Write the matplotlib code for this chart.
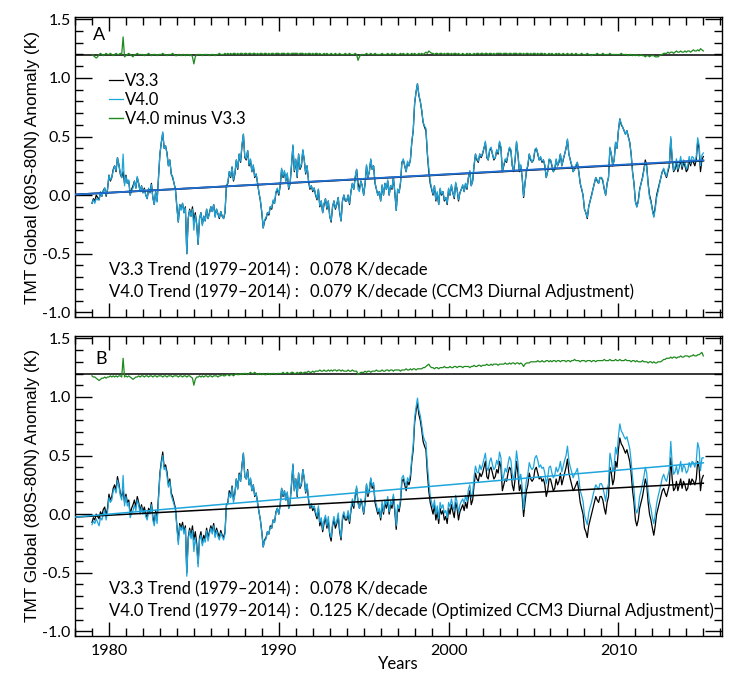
import numpy as np
import matplotlib
matplotlib.use("Agg")
import matplotlib.pyplot as plt
from matplotlib.ticker import MultipleLocator

# ---------------- data (monthly, Jan 1979 .. Jan 2015) ----------------
start_year = 1979
v33 = [
    -0.07, -0.03, -0.05, 0.00, -0.02, -0.04, 0.02, -0.01, 0.04, 0.06, -0.01, 0.05,   # 1979
    0.17, 0.12, 0.15, 0.22, 0.25, 0.20, 0.32, 0.26, 0.18, 0.15, 0.20, 0.10,          # 1980
    0.17, 0.10, 0.12, 0.00, 0.05, 0.08, 0.12, 0.06, 0.15, 0.10, 0.03, 0.08,          # 1981
    0.02, 0.06, 0.00, -0.03, 0.05, 0.02, 0.10, -0.02, -0.08, 0.03, -0.05, 0.15,      # 1982
    0.35, 0.45, 0.53, 0.40, 0.42, 0.36, 0.25, 0.30, 0.18, 0.15, 0.10, 0.05,          # 1983
    -0.10, -0.23, -0.08, -0.12, -0.07, -0.15, -0.10, -0.50, -0.20, -0.12, -0.18, -0.10,  # 1984
    -0.22, -0.15, -0.25, -0.42, -0.20, -0.15, -0.25, -0.18, -0.22, -0.12, -0.20, -0.15,  # 1985
    -0.10, -0.14, -0.08, -0.18, -0.12, -0.16, -0.20, -0.14, -0.18, -0.20, -0.15, 0.08,   # 1986
    0.10, 0.20, 0.15, 0.24, 0.12, 0.18, 0.30, 0.22, 0.35, 0.28, 0.42, 0.52,          # 1987
    0.32, 0.30, 0.38, 0.25, 0.30, 0.20, 0.25, 0.15, 0.18, 0.10, 0.02, -0.05,         # 1988
    -0.15, -0.28, -0.22, -0.20, -0.15, -0.17, -0.10, -0.12, -0.05, -0.07, 0.02, 0.05,    # 1989
    0.00, 0.08, 0.22, 0.15, 0.20, 0.12, 0.18, 0.05, 0.10, 0.25, 0.42, 0.20,          # 1990
    0.30, 0.15, 0.35, 0.22, 0.25, 0.38, 0.30, 0.18, 0.25, 0.12, 0.05, 0.08,          # 1991
    0.03, 0.06, 0.00, -0.04, 0.05, -0.10, -0.05, -0.15, -0.08, -0.03, -0.12, -0.05,  # 1992
    -0.18, -0.23, -0.10, -0.05, -0.12, -0.08, -0.02, -0.15, -0.22, -0.05, 0.00, -0.05,   # 1993
    -0.05, 0.00, -0.08, 0.03, 0.10, 0.05, 0.15, 0.22, 0.10, 0.05, 0.12, 0.08,        # 1994
    0.00, 0.10, 0.25, 0.15, 0.20, 0.30, 0.22, 0.25, 0.10, 0.05, 0.00, 0.03,          # 1995
    -0.05, 0.08, 0.00, 0.10, 0.05, 0.12, 0.00, 0.08, 0.05, 0.15, 0.02, -0.13,        # 1996
    0.05, 0.02, 0.10, 0.28, 0.30, 0.25, 0.20, 0.28, 0.25, 0.30, 0.45, 0.55,          # 1997
    0.78, 0.88, 0.95, 0.85, 0.80, 0.72, 0.62, 0.58, 0.55, 0.35, 0.20, 0.10,          # 1998
    0.05, 0.00, 0.08, -0.05, 0.02, -0.08, 0.05, 0.00, 0.03, -0.05, -0.02, -0.08,     # 1999
    0.05, 0.00, 0.08, 0.02, -0.03, 0.10, 0.05, -0.05, 0.02, 0.05, 0.08, 0.03,        # 2000
    0.10, 0.05, 0.15, 0.20, 0.08, 0.12, 0.25, 0.35, 0.30, 0.28, 0.35, 0.32,          # 2001
    0.35, 0.40, 0.45, 0.32, 0.30, 0.38, 0.40, 0.35, 0.30, 0.32, 0.38, 0.35,          # 2002
    0.45, 0.40, 0.20, 0.25, 0.30, 0.28, 0.35, 0.40, 0.38, 0.25, 0.20, 0.30,          # 2003
    0.45, 0.35, 0.20, 0.25, 0.15, -0.02, 0.10, 0.20, 0.25, 0.35, 0.30, 0.28,         # 2004
    0.30, 0.38, 0.40, 0.35, 0.30, 0.32, 0.28, 0.30, 0.25, 0.15, 0.20, 0.30,          # 2005
    0.30, 0.25, 0.20, 0.22, 0.30, 0.25, 0.28, 0.35, 0.25, 0.30, 0.35, 0.40,          # 2006
    0.47, 0.35, 0.30, 0.25, 0.20, 0.22, 0.25, 0.28, 0.20, 0.10, 0.05, 0.00,          # 2007
    -0.12, -0.15, -0.20, -0.10, -0.05, 0.00, 0.05, 0.10, 0.15, 0.12, 0.10, 0.15,     # 2008
    0.15, 0.12, 0.05, 0.00, 0.10, 0.15, 0.40, 0.35, 0.25, 0.30, 0.45, 0.40,          # 2009
    0.55, 0.65, 0.60, 0.58, 0.55, 0.52, 0.55, 0.50, 0.45, 0.35, 0.20, 0.10,          # 2010
    -0.05, -0.10, -0.05, 0.05, 0.10, 0.15, 0.22, 0.30, 0.25, 0.10, 0.00, -0.05,      # 2011
    -0.12, -0.18, -0.10, 0.00, 0.05, 0.10, 0.15, 0.20, 0.22, 0.18, 0.15, 0.20,       # 2012
    0.25, 0.48, 0.30, 0.20, 0.22, 0.28, 0.20, 0.25, 0.30, 0.22, 0.28, 0.25,          # 2013
    0.20, 0.22, 0.30, 0.25, 0.30, 0.28, 0.25, 0.30, 0.45, 0.40, 0.20, 0.30,          # 2014
    0.33,                                                                            # 2015
]

# V4.0 (CCM3 diurnal adjustment) minus V3.3
diff_a = [
    0.00, -0.01, -0.02, -0.03, -0.02, 0.00, 0.01, 0.00, -0.01, 0.00, 0.01, 0.00,     # 1979
    0.00, 0.01, 0.00, -0.01, 0.00, 0.01, 0.00, 0.00, 0.01, 0.00, 0.15, -0.02,        # 1980
    -0.01, 0.00, 0.01, 0.00, -0.01, -0.02, 0.00, 0.00, 0.01, 0.00, 0.00, 0.00,       # 1981
    0.00, -0.01, 0.00, 0.00, 0.01, 0.00, -0.01, 0.00, 0.00, 0.00, -0.01, 0.00,       # 1982
    0.00, 0.00, 0.01, 0.00, 0.00, -0.01, 0.00, 0.00, 0.00, 0.01, 0.00, -0.01,        # 1983
    -0.01, 0.00, 0.00, -0.01, 0.00, 0.00, -0.01, 0.00, 0.00, -0.01, 0.00, -0.02,     # 1984
    -0.08, -0.02, 0.00, 0.00, 0.00, 0.00, -0.01, 0.00, 0.00, 0.00, 0.00, -0.01,      # 1985
    0.00, 0.00, 0.00, -0.01, 0.00, 0.00, 0.01, 0.00, 0.00, 0.00, 0.01, 0.00,         # 1986
    0.01, 0.00, 0.01, 0.00, 0.01, 0.01, 0.00, 0.01, 0.00, 0.01, 0.01, 0.00,          # 1987
    0.01, 0.01, 0.00, 0.01, 0.01, 0.00, 0.01, 0.01, 0.00, 0.01, 0.00, 0.01,          # 1988
    0.01, 0.00, 0.01, 0.01, 0.00, 0.01, 0.00, 0.01, 0.01, 0.00, 0.01, 0.01,          # 1989
    0.01, 0.00, 0.01, 0.01, 0.01, 0.00, 0.01, 0.01, 0.00, 0.01, 0.01, 0.01,          # 1990
    0.01, 0.01, 0.00, 0.01, 0.01, 0.01, 0.00, 0.01, 0.00, 0.01, 0.01, 0.00,          # 1991
    0.01, 0.00, 0.01, 0.01, 0.00, 0.01, 0.00, 0.00, 0.01, 0.00, 0.01, 0.00,          # 1992
    0.00, 0.01, 0.00, 0.00, 0.01, 0.00, 0.00, 0.01, 0.00, 0.00, 0.00, 0.01,          # 1993
    0.00, 0.00, 0.01, 0.00, 0.00, 0.00, 0.01, 0.00, -0.05, -0.02, 0.00, 0.00,        # 1994
    0.00, 0.00, 0.01, 0.00, 0.00, 0.01, 0.00, 0.00, 0.01, 0.00, 0.00, 0.00,          # 1995
    0.00, 0.01, 0.00, 0.00, 0.00, 0.01, 0.00, 0.00, 0.01, 0.00, 0.01, 0.00,          # 1996
    0.00, 0.00, 0.01, 0.00, 0.01, 0.00, 0.00, 0.01, 0.00, 0.00, 0.01, 0.00,          # 1997
    0.01, 0.00, 0.00, 0.01, 0.00, 0.01, 0.00, 0.01, 0.02, 0.01, 0.03, 0.02,          # 1998
    0.01, 0.01, 0.00, 0.01, 0.01, 0.00, 0.01, 0.01, 0.00, 0.01, 0.00, 0.01,          # 1999
    0.01, 0.00, 0.01, 0.00, 0.01, 0.01, 0.00, 0.01, 0.00, 0.00, 0.01, 0.00,          # 2000
    0.00, 0.01, 0.00, 0.01, 0.00, 0.00, 0.01, 0.00, 0.01, 0.01, 0.00, 0.01,          # 2001
    0.01, 0.00, 0.01, 0.01, 0.00, 0.01, 0.01, 0.00, 0.01, 0.00, 0.01, 0.01,          # 2002
    0.01, 0.01, 0.00, 0.01, 0.01, 0.01, 0.00, 0.01, 0.01, 0.00, 0.01, 0.01,          # 2003
    0.01, 0.00, 0.01, 0.01, 0.00, 0.01, 0.00, 0.01, 0.01, 0.00, 0.01, 0.00,          # 2004
    0.01, 0.01, 0.00, 0.01, 0.00, 0.01, 0.01, 0.00, 0.01, 0.00, 0.00, 0.01,          # 2005
    0.00, 0.01, 0.00, 0.00, 0.01, 0.00, 0.01, 0.00, 0.00, 0.01, 0.00, 0.00,          # 2006
    0.01, 0.00, 0.00, 0.01, 0.00, 0.00, 0.01, 0.00, 0.00, 0.00, 0.01, 0.00,          # 2007
    0.00, 0.00, 0.01, 0.00, 0.00, -0.01, 0.00, 0.00, 0.00, 0.01, 0.00, 0.00,         # 2008
    0.00, 0.01, 0.00, 0.00, 0.00, 0.00, 0.01, 0.00, 0.00, 0.00, 0.00, 0.00,          # 2009
    0.00, 0.00, 0.01, 0.00, 0.00, 0.00, 0.00, -0.01, 0.00, 0.00, -0.01, 0.00,        # 2010
    -0.01, 0.00, -0.01, -0.01, 0.00, -0.01, -0.01, -0.02, -0.01, -0.01, -0.02, -0.01,  # 2011
    -0.01, -0.01, -0.02, -0.02, -0.02, -0.01, 0.00, 0.00, 0.01, 0.01, 0.01, 0.02,    # 2012
    0.01, 0.02, 0.02, 0.01, 0.02, 0.03, 0.02, 0.02, 0.03, 0.02, 0.02, 0.03,          # 2013
    0.02, 0.03, 0.03, 0.02, 0.03, 0.04, 0.03, 0.03, 0.04, 0.03, 0.05, 0.04,          # 2014
    0.03,                                                                            # 2015
]

# V4.0 (optimized CCM3 diurnal adjustment) minus V3.3
diff_b = [
    -0.02, -0.03, -0.03, -0.04, -0.05, -0.06, -0.05, -0.04, -0.04, -0.03, -0.04, -0.03,  # 1979
    -0.03, -0.02, -0.03, -0.02, -0.03, -0.02, -0.03, -0.02, -0.02, -0.03, 0.13, -0.03,   # 1980
    -0.02, -0.03, -0.02, -0.03, -0.04, -0.05, -0.04, -0.03, -0.03, -0.02, -0.03, -0.02,  # 1981
    -0.02, -0.03, -0.02, -0.02, -0.03, -0.02, -0.02, -0.03, -0.02, -0.02, -0.03, -0.02,  # 1982
    -0.02, -0.02, -0.03, -0.02, -0.02, -0.03, -0.02, -0.02, -0.02, -0.03, -0.02, -0.02,  # 1983
    -0.02, -0.03, -0.02, -0.02, -0.03, -0.02, -0.02, -0.03, -0.02, -0.02, -0.03, -0.04,  # 1984
    -0.10, -0.05, -0.03, -0.03, -0.02, -0.03, -0.02, -0.03, -0.02, -0.02, -0.03, -0.02,  # 1985
    -0.02, -0.03, -0.02, -0.02, -0.02, -0.03, -0.02, -0.02, -0.01, -0.02, -0.02, -0.01,  # 1986
    -0.01, -0.02, -0.01, -0.01, -0.02, -0.01, 0.00, -0.01, -0.01, 0.00, -0.01, 0.00,     # 1987
    0.00, 0.00, -0.01, 0.00, 0.01, 0.00, 0.00, 0.01, 0.00, -0.01, 0.00, 0.00,            # 1988
    -0.01, 0.00, -0.01, -0.01, 0.00, 0.00, -0.01, 0.00, 0.00, 0.00, -0.01, 0.00,         # 1989
    0.00, 0.00, 0.00, 0.01, 0.00, 0.00, 0.01, 0.00, 0.00, 0.01, 0.01, 0.00,              # 1990
    0.00, 0.01, 0.00, 0.01, 0.01, 0.00, 0.01, 0.01, 0.01, 0.02, 0.01, 0.01,              # 1991
    0.02, 0.01, 0.02, 0.02, 0.02, 0.03, 0.02, 0.02, 0.03, 0.02, 0.02, 0.03,              # 1992
    0.02, 0.03, 0.02, 0.03, 0.03, 0.02, 0.03, 0.03, 0.02, 0.03, 0.02, 0.02,              # 1993
    0.02, 0.03, 0.02, 0.02, 0.03, 0.02, 0.02, 0.02, -0.01, 0.00, 0.01, 0.01,             # 1994
    0.01, 0.02, 0.01, 0.02, 0.02, 0.01, 0.02, 0.02, 0.02, 0.03, 0.02, 0.02,              # 1995
    0.02, 0.03, 0.02, 0.02, 0.03, 0.03, 0.02, 0.03, 0.03, 0.02, 0.03, 0.03,              # 1996
    0.03, 0.03, 0.02, 0.03, 0.03, 0.03, 0.04, 0.03, 0.03, 0.04, 0.03, 0.04,              # 1997
    0.04, 0.03, 0.04, 0.04, 0.04, 0.04, 0.05, 0.05, 0.06, 0.07, 0.08, 0.06,              # 1998
    0.05, 0.05, 0.04, 0.05, 0.05, 0.04, 0.05, 0.05, 0.05, 0.06, 0.05, 0.05,              # 1999
    0.05, 0.06, 0.05, 0.05, 0.06, 0.06, 0.05, 0.06, 0.06, 0.06, 0.05, 0.06,              # 2000
    0.06, 0.06, 0.06, 0.05, 0.06, 0.06, 0.07, 0.06, 0.06, 0.07, 0.07, 0.06,              # 2001
    0.07, 0.07, 0.07, 0.08, 0.07, 0.07, 0.08, 0.07, 0.08, 0.08, 0.08, 0.07,              # 2002
    0.08, 0.08, 0.08, 0.08, 0.09, 0.08, 0.08, 0.09, 0.08, 0.09, 0.09, 0.08,              # 2003
    0.09, 0.09, 0.08, 0.09, 0.08, 0.06, 0.08, 0.09, 0.09, 0.09, 0.10, 0.10,              # 2004
    0.10, 0.10, 0.10, 0.11, 0.10, 0.10, 0.11, 0.10, 0.10, 0.11, 0.11, 0.10,              # 2005
    0.11, 0.10, 0.11, 0.11, 0.10, 0.11, 0.11, 0.10, 0.11, 0.11, 0.11, 0.10,              # 2006
    0.11, 0.11, 0.10, 0.11, 0.11, 0.12, 0.11, 0.11, 0.11, 0.10, 0.11, 0.11,              # 2007
    0.11, 0.10, 0.11, 0.11, 0.11, 0.10, 0.11, 0.11, 0.10, 0.11, 0.11, 0.11,              # 2008
    0.11, 0.11, 0.12, 0.11, 0.11, 0.11, 0.12, 0.11, 0.11, 0.11, 0.12, 0.11,              # 2009
    0.11, 0.12, 0.11, 0.11, 0.11, 0.12, 0.11, 0.11, 0.11, 0.10, 0.11, 0.11,              # 2010
    0.10, 0.11, 0.10, 0.10, 0.10, 0.11, 0.10, 0.10, 0.10, 0.09, 0.10, 0.10,              # 2011
    0.09, 0.10, 0.09, 0.09, 0.10, 0.10, 0.10, 0.11, 0.12, 0.12, 0.13, 0.13,              # 2012
    0.13, 0.14, 0.13, 0.14, 0.14, 0.13, 0.14, 0.14, 0.15, 0.14, 0.14, 0.15,              # 2013
    0.15, 0.15, 0.14, 0.15, 0.15, 0.16, 0.15, 0.15, 0.16, 0.16, 0.17, 0.18,              # 2014
    0.15,                                                                                # 2015
]

diff_offset = 1.2               # difference curves are drawn around this baseline
trend_x = [1978.0, 2015.0]      # extent of trend lines
# trend lines: (value at 1978, slope K/decade)
trend_a_v33 = (0.005, 0.078)
trend_a_v40 = (0.005, 0.079)
trend_b_v33 = (-0.025, 0.078)
trend_b_v40 = (-0.025, 0.125)

xticks_major = [1980, 1990, 2000, 2010]
trend_text = {
    "A": ["0.078 K/decade", "0.079 K/decade (CCM3 Diurnal Adjustment)"],
    "B": ["0.078 K/decade", "0.125 K/decade (Optimized CCM3 Diurnal Adjustment)"],
}
trend_lab = ["V3.3 Trend (1979\u20132014) :", "V4.0 Trend (1979\u20132014) :"]

# ---------------- derived series ----------------
v33 = np.array(v33)
diff_a = np.array(diff_a)
diff_b = np.array(diff_b)
t = start_year + np.arange(len(v33)) / 12.0
v40_a = v33 + diff_a
v40_b = v33 + diff_b

BLACK = "#000000"
BLUE = "#1ea5dc"
BLUE_TREND_A = "#1f6fd4"
GREEN = "#1e8a1e"
TXT_FONT = ["Lato", "DejaVu Sans"]

plt.rcParams["font.family"] = TXT_FONT

fig = plt.figure(figsize=(7.34, 6.74), dpi=100)
W, H = 734, 674
def ax_rect(l, t_, r, b):
    return [l / W, 1 - b / H, (r - l) / W, (b - t_) / H]

axA = fig.add_axes(ax_rect(75, 17, 722, 317))
axB = fig.add_axes(ax_rect(75, 336, 722, 636))


def trend_y(p):
    b0, s = p
    return [b0 + s / 10.0 * (x - trend_x[0]) for x in trend_x]


def style(ax, show_xlabels):
    ax.set_xlim(1978.0, 2016.1)
    ax.set_ylim(-1.04, 1.52)
    ax.xaxis.set_major_locator(plt.FixedLocator(xticks_major))
    ax.xaxis.set_minor_locator(MultipleLocator(1))
    ax.yaxis.set_major_locator(MultipleLocator(0.5))
    ax.yaxis.set_minor_locator(MultipleLocator(0.1))
    ax.tick_params(which="both", direction="in", top=True, right=True,
                   width=1.0, colors="black", labelsize=11.5)
    ax.tick_params(axis="y", which="major", length=12)
    ax.tick_params(axis="y", which="minor", length=5.5)
    ax.tick_params(axis="x", which="major", length=10)
    ax.tick_params(axis="x", which="minor", length=6)
    ax.tick_params(axis="x", labelbottom=show_xlabels, pad=6)
    ax.tick_params(axis="y", pad=3)
    ax.yaxis.set_major_formatter(plt.FuncFormatter(lambda v, p: f"{v:.1f}"))
    for sp in ax.spines.values():
        sp.set_linewidth(1.0)
    ax.axhline(diff_offset, color="black", lw=1.1, zorder=2)
    ax.set_ylabel("TMT Global (80S-80N) Anomaly (K)", fontsize=12.4,
                  family=["Liberation Sans", "DejaVu Sans"], labelpad=2)


# ---- Panel A ----
axA.plot(t, diff_offset + diff_a, color=GREEN, lw=0.9, zorder=3)
axA.plot(t, v33, color=BLACK, lw=0.9, label="V3.3", zorder=3)
axA.plot(t, v40_a, color=BLUE, lw=0.9, label="V4.0", zorder=4)
axA.plot(trend_x, trend_y(trend_a_v33), color=BLACK, lw=1.3, zorder=5)
axA.plot(trend_x, trend_y(trend_a_v40), color=BLUE_TREND_A, lw=1.3, zorder=6)
axA.plot([], [], color=GREEN, lw=1.0, label="V4.0 minus V3.3")
style(axA, False)
leg = axA.legend(loc="upper left", bbox_to_anchor=(0.052, 0.815), frameon=False,
                 fontsize=12, handlelength=0.85, handletextpad=0.15,
                 labelspacing=0.2, borderpad=0, borderaxespad=0)
axA.text(0.028, 0.94, "A", transform=axA.transAxes, fontsize=13, va="center")

# ---- Panel B ----
axB.plot(t, diff_offset + diff_b, color=GREEN, lw=0.9, zorder=3)
axB.plot(t, v33, color=BLACK, lw=0.9, zorder=3)
axB.plot(t, v40_b, color=BLUE, lw=0.9, zorder=4)
axB.plot(trend_x, trend_y(trend_b_v33), color=BLACK, lw=1.1, zorder=5)
axB.plot(trend_x, trend_y(trend_b_v40), color=BLUE, lw=1.1, zorder=6)
style(axB, True)
axB.text(0.031, 0.925, "B", transform=axB.transAxes, fontsize=13, va="center")

for ax, key in ((axA, "A"), (axB, "B")):
    for i, yy in enumerate((0.157, 0.083)):
        ax.text(0.052, yy, trend_lab[i], transform=ax.transAxes, fontsize=12, va="center")
        ax.text(0.363, yy, trend_text[key][i], transform=ax.transAxes, fontsize=12, va="center")

fig.text(398 / W, 1 - 672 / H, "Years", ha="center", va="bottom", fontsize=12)

fig.savefig("out.png", dpi=100)
